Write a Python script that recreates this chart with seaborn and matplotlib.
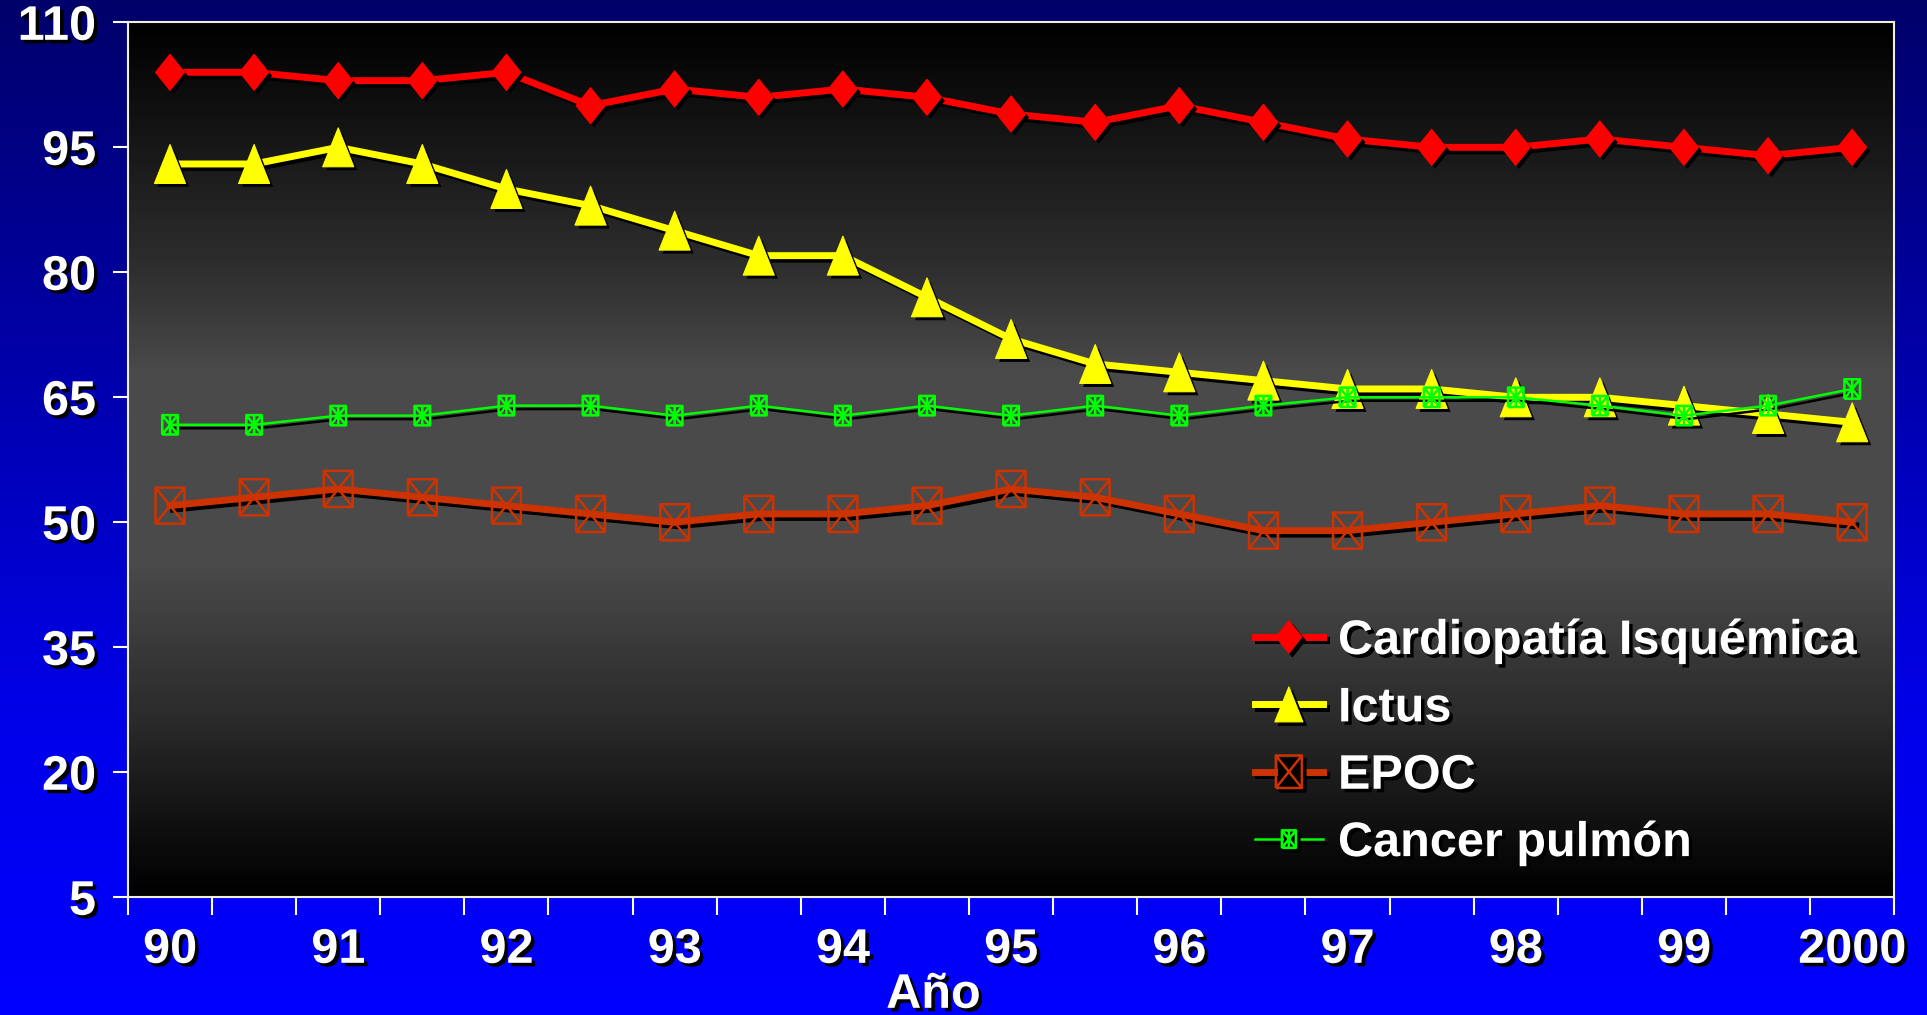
import numpy as np
import pandas as pd
import matplotlib
matplotlib.use("Agg")
import matplotlib.pyplot as plt
import matplotlib.patheffects as pe
from matplotlib.path import Path
from matplotlib.lines import Line2D
from matplotlib.colors import LinearSegmentedColormap
import seaborn as sns

# ---- data -------------------------------------------------------------
periods = [1990.0, 1990.5, 1991.0, 1991.5, 1992.0, 1992.5, 1993.0, 1993.5,
           1994.0, 1994.5, 1995.0, 1995.5, 1996.0, 1996.5, 1997.0, 1997.5,
           1998.0, 1998.5, 1999.0, 1999.5, 2000.0]
cardiopatia = [104, 104, 103, 103, 104, 100, 102, 101, 102, 101, 99,
               98, 100, 98, 96, 95, 95, 96, 95, 94, 95]
ictus = [93, 93, 95, 93, 90, 88, 85, 82, 82, 77, 72,
         69, 68, 67, 66, 66, 65, 65, 64, 63, 62]
epoc = [52, 53, 54, 53, 52, 51, 50, 51, 51, 52, 54,
        53, 51, 49, 49, 50, 51, 52, 51, 51, 50]
cancer_pulmon = [61.7, 61.7, 62.8, 62.8, 64, 64, 62.8, 64, 62.8, 64, 62.8,
                 64, 62.8, 64, 65, 65, 65, 64, 62.8, 64, 66]
year_ticks = [1990, 1991, 1992, 1993, 1994, 1995, 1996, 1997, 1998, 1999, 2000]
year_labels = ["90", "91", "92", "93", "94", "95", "96", "97", "98", "99", "2000"]
y_ticks = [5, 20, 35, 50, 65, 80, 95, 110]

series_names = ["Cardiopatía Isquémica", "Ictus", "EPOC", "Cancer pulmón"]

df = pd.DataFrame({
    "periodo": periods,
    "Cardiopatía Isquémica": cardiopatia,
    "Ictus": ictus,
    "EPOC": epoc,
    "Cancer pulmón": cancer_pulmon,
})

# ---- fonts ------------------------------------------------------------
FONT = ["Liberation Sans Narrow", "Liberation Sans", "DejaVu Sans"]
plt.rcParams["font.family"] = FONT
plt.rcParams["font.weight"] = "bold"
FS = 35

text_fx = [pe.withSimplePatchShadow(offset=(2.5, -2.5), shadow_rgbFace="black", alpha=1.0)]

# ---- custom marker shapes --------------------------------------------
M, L = Path.MOVETO, Path.LINETO
diamond = Path([(0, 0.5), (0.4, 0), (0, -0.5), (-0.4, 0), (0, 0.5)],
               [M, L, L, L, Path.CLOSEPOLY])
triangle = Path([(0, 0.5), (0.4, -0.5), (-0.4, -0.5), (0, 0.5)],
                [M, L, L, Path.CLOSEPOLY])
box_x = Path([(-0.4, -0.5), (0.4, -0.5), (0.4, 0.5), (-0.4, 0.5), (-0.4, -0.5),
              (-0.4, -0.5), (0.4, 0.5), (-0.4, 0.5), (0.4, -0.5)],
             [M, L, L, L, L, M, L, M, L])
box_star = Path([(-0.4, -0.5), (0.4, -0.5), (0.4, 0.5), (-0.4, 0.5), (-0.4, -0.5),
                 (-0.4, -0.5), (0.4, 0.5), (-0.4, 0.5), (0.4, -0.5),
                 (0, -0.5), (0, 0.5)],
                [M, L, L, L, L, M, L, M, L, M, L])

styles = {
    "Cardiopatía Isquémica": dict(color="#ff0000", lw=5.0, marker=diamond, ms=26, filled=True),
    "Ictus": dict(color="#ffff00", lw=5.0, marker=triangle, ms=28, filled=True),
    "EPOC": dict(color="#cc3300", lw=5.0, marker=box_x, ms=26, filled=False),
    "Cancer pulmón": dict(color="#00ff00", lw=1.8, marker=box_star, ms=14, filled=False),
}

# ---- figure & backgrounds --------------------------------------------
fig = plt.figure(figsize=(19.27, 10.15), dpi=100)

bg = fig.add_axes([0, 0, 1, 1], zorder=-10)
blue = LinearSegmentedColormap.from_list(
    "blue_bg", [(0.0, "#00006a"), (0.35, "#0000a8"), (0.7, "#0000e8"), (1.0, "#0000ff")])
bg.imshow(np.linspace(0, 1, 256).reshape(-1, 1), cmap=blue, aspect="auto",
          extent=[0, 1, 0, 1], origin="upper")
bg.set_axis_off()

ax = fig.add_axes([0.0664, 0.116, 0.9166, 0.862])
grey = LinearSegmentedColormap.from_list(
    "plot_bg", [(0.0, "#000000"), (0.12, "#141414"), (0.28, "#2e2e2e"),
                (0.40, "#4a4a4a"), (0.62, "#4a4a4a"), (0.80, "#2a2a2a"),
                (0.93, "#0e0e0e"), (1.0, "#000000")])
ax.imshow(np.linspace(0, 1, 256).reshape(-1, 1), cmap=grey, aspect="auto",
          extent=[0, 1, 0, 1], origin="upper", transform=ax.transAxes, zorder=0)

# ---- series -----------------------------------------------------------
line_fx = [pe.SimpleLineShadow(offset=(2.5, -2.5), shadow_color="black", alpha=1.0), pe.Normal()]
marker_fx = [pe.SimplePatchShadow(offset=(2.5, -2.5), shadow_rgbFace="black", alpha=1.0), pe.Normal()]

for z, name in enumerate(series_names):
    st = styles[name]
    sns.lineplot(data=df, x="periodo", y=name, color=st["color"], lw=st["lw"],
                 ax=ax, legend=False, zorder=3 + 2 * z, path_effects=line_fx)
    sns.scatterplot(data=df, x="periodo", y=name, color=st["color"], marker=st["marker"],
                    s=st["ms"] ** 2, ax=ax, legend=False, zorder=4 + 2 * z,
                    linewidth=1.8 if not st["filled"] else 0.8)
    coll = ax.collections[-1]
    if st["filled"]:
        coll.set_facecolor(st["color"])
        coll.set_edgecolor(st["color"])
        coll.set_path_effects(marker_fx)
    else:
        coll.set_facecolor("none")
        coll.set_edgecolor(st["color"])

# ---- axes -------------------------------------------------------------
ax.set_xlim(1989.75, 2000.25)
ax.set_ylim(5, 110)
ax.set_xticks(year_ticks)
ax.set_xticklabels(year_labels)
ax.set_xticks(np.arange(1989.75, 2000.3, 0.5), minor=True)
ax.set_yticks(y_ticks)
ax.set_yticklabels([str(v) for v in y_ticks])
ax.tick_params(axis="x", which="major", length=0, pad=22, labelsize=FS, labelcolor="white")
ax.tick_params(axis="x", which="minor", length=13, width=1.5, color="white", direction="out")
ax.tick_params(axis="y", which="major", length=11, width=1.5, color="white",
               pad=12, labelsize=FS, labelcolor="white")
for lab in ax.get_xticklabels() + ax.get_yticklabels():
    lab.set_fontweight("bold")
    lab.set_path_effects(text_fx)

for sp in ax.spines.values():
    sp.set_color("#f2f0d8")
    sp.set_linewidth(1.5)
    sp.set_zorder(20)

ax.set_ylabel("")
ax.set_xlabel("Año", fontsize=FS, fontweight="bold", color="white", labelpad=0, x=0.456)
ax.xaxis.label.set_path_effects(text_fx)
ax.grid(False)

# ---- legend -----------------------------------------------------------
handles = []
for name in series_names:
    st = styles[name]
    h = Line2D([0], [0], color=st["color"], lw=st["lw"], marker=st["marker"],
               markersize=st["ms"] * 0.9,
               markerfacecolor=st["color"] if st["filled"] else "none",
               markeredgecolor=st["color"], markeredgewidth=1.8 if not st["filled"] else 0.8)
    h.set_path_effects([pe.SimpleLineShadow(offset=(2.5, -2.5), shadow_color="black", alpha=1.0),
                        pe.SimplePatchShadow(offset=(2.5, -2.5), shadow_rgbFace="black", alpha=1.0),
                        pe.Normal()])
    handles.append(h)

leg = ax.legend(handles, series_names, loc="upper left", bbox_to_anchor=(0.638, 0.318),
                frameon=False, fontsize=FS, handlelength=1.4, handletextpad=0.31,
                labelspacing=0.46, borderpad=0.0, borderaxespad=0.0)
for t in leg.get_texts():
    t.set_color("white")
    t.set_fontweight("bold")
    t.set_path_effects(text_fx)
leg.set_zorder(30)

fig.savefig("out.png", dpi=100)
